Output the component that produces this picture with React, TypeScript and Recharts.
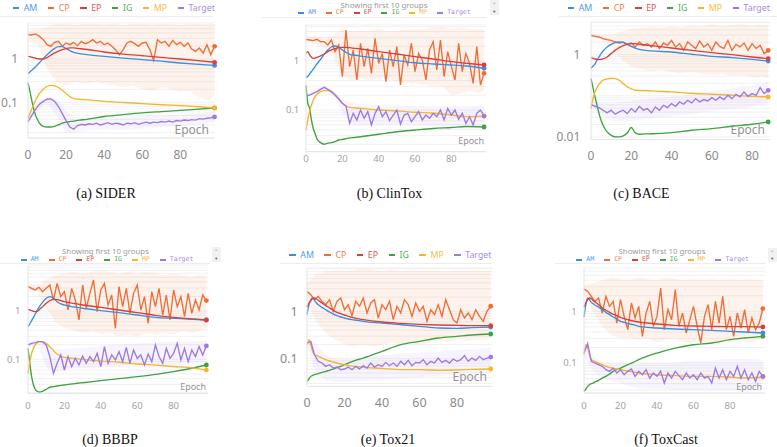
import React from 'react';
import { ComposedChart, Line, Area, XAxis, YAxis, CartesianGrid } from 'recharts';

// epoch grids the values below are read at
const EPOCHS_2 = [0, 2, 4, 6, 8, 10, 12, 14, 16, 18, 20, 22, 24, 26, 28, 30, 32, 34, 36, 38, 40, 42, 44, 46, 48, 50, 52, 54, 56, 58, 60, 62, 64, 66, 68, 70, 72, 74, 76, 78, 80, 82, 84, 86, 88, 90, 92, 94, 96, 98];
const EPOCHS_SMOOTH = [0, 1, 2, 3, 4, 5, 6, 8, 10, 12, 14, 16, 18, 20, 22, 24, 27, 30, 40, 50, 60, 70, 80, 88, 98];
const EPOCHS_BAND = [0, 5, 10, 15, 20, 25, 30, 35, 40, 45, 50, 55, 60, 65, 70, 75, 80, 85, 90, 95, 98];
// BACE stops at epoch 88
const BACE_EPOCHS_2 = EPOCHS_2.slice(0, 45);
const BACE_EPOCHS_SMOOTH = EPOCHS_SMOOTH.slice(0, 24);
const BACE_EPOCHS_BAND = [0, 5, 10, 15, 20, 25, 30, 35, 40, 45, 50, 55, 60, 65, 70, 75, 80, 85, 88];

const X_TICKS = [0, 20, 40, 60, 80];
const LOG_GRID = [0.01, 0.02, 0.03, 0.04, 0.05, 0.06, 0.07, 0.08, 0.09, 0.1, 0.2, 0.3, 0.4, 0.5, 0.6, 0.7, 0.8, 0.9, 1, 2, 3, 4, 5, 6, 7, 8, 9];
const LEGEND_NAMES = ['AM', 'CP', 'EP', 'IG', 'MP', 'Target'];
const DRAW_ORDER = ['CP', 'AM', 'EP', 'IG', 'MP', 'Target'];
const NOISY = ['CP', 'Target'];

// ---- SIDER
const SIDER_AM = [0.46, 0.5, 0.55, 0.6, 0.66, 0.74, 0.82, 1.02, 1.25, 1.5, 1.76, 1.93, 1.93, 1.73, 1.56, 1.42, 1.33, 1.28, 1.15, 1.05, 0.97, 0.89, 0.81, 0.76, 0.71];
const SIDER_EP = [1.15, 1.13, 1.1, 1.07, 1.04, 1.02, 1.0, 1.0, 1.08, 1.22, 1.38, 1.52, 1.64, 1.74, 1.8, 1.8, 1.74, 1.68, 1.45, 1.3, 1.19, 1.09, 1.0, 0.93, 0.84];
const SIDER_MP = [0.043, 0.055, 0.07, 0.09, 0.11, 0.135, 0.16, 0.2, 0.235, 0.247, 0.24, 0.22, 0.19, 0.16, 0.135, 0.122, 0.118, 0.115, 0.105, 0.099, 0.093, 0.088, 0.084, 0.08, 0.074];
const SIDER_IG = [0.28, 0.18, 0.11, 0.07, 0.05, 0.04, 0.033, 0.028, 0.027, 0.027, 0.028, 0.03, 0.033, 0.035, 0.036, 0.037, 0.039, 0.04, 0.047, 0.052, 0.057, 0.061, 0.065, 0.069, 0.074];
const SIDER_TARGET = [0.036, 0.05, 0.07, 0.09, 0.105, 0.118, 0.12, 0.105, 0.08, 0.055, 0.038, 0.027, 0.024, 0.029, 0.031, 0.03, 0.032, 0.031, 0.033, 0.03, 0.032, 0.034, 0.031, 0.033, 0.032, 0.03, 0.033, 0.032, 0.034, 0.031, 0.033, 0.035, 0.033, 0.035, 0.034, 0.036, 0.035, 0.037, 0.035, 0.038, 0.037, 0.039, 0.038, 0.04, 0.039, 0.042, 0.041, 0.043, 0.044, 0.046];
const SIDER_CP = [3.64, 3.58, 3.78, 3.33, 2.79, 2.14, 1.96, 2.42, 2.56, 1.96, 2.34, 2.14, 2.42, 2.03, 2.56, 2.26, 2.42, 2.79, 2.34, 2.56, 2.14, 2.34, 1.96, 1.64, 1.26, 1.64, 2.34, 2.56, 2.26, 1.96, 2.34, 2.42, 1.64, 0.92, 2.79, 2.34, 2.56, 1.96, 2.7, 2.14, 2.42, 1.96, 2.34, 1.7, 1.5, 1.79, 1.37, 2.14, 1.26, 1.96];
const SIDER_CP_HI = [4.6, 4.8, 5.5, 6.5, 6.5, 6.0, 6.5, 6.5, 6.2, 6.5, 6.0, 6.5, 6.5, 6.2, 6.5, 6.5, 6.0, 6.5, 6.5, 6.2, 6.5];
const SIDER_CP_LO = [2.6, 2.2, 0.6, 0.3, 0.25, 0.3, 0.26, 0.3, 0.27, 0.25, 0.22, 0.24, 0.2, 0.18, 0.22, 0.2, 0.17, 0.18, 0.13, 0.11, 0.15];
const SIDER_TG_HI = [0.04, 0.1, 0.14, 0.12, 0.06, 0.045, 0.045, 0.045, 0.046, 0.046, 0.045, 0.047, 0.048, 0.049, 0.05, 0.051, 0.052, 0.054, 0.056, 0.058, 0.06];
const SIDER_TG_LO = [0.032, 0.06, 0.1, 0.05, 0.02, 0.02, 0.022, 0.023, 0.024, 0.023, 0.023, 0.024, 0.025, 0.026, 0.027, 0.028, 0.028, 0.03, 0.031, 0.033, 0.035];

// ---- ClinTox
const CLINTOX_AM = [0.46, 0.49, 0.54, 0.61, 0.68, 0.77, 0.87, 1.08, 1.37, 1.68, 1.93, 2.02, 1.9, 1.68, 1.5, 1.37, 1.31, 1.26, 1.13, 1.02, 0.92, 0.87, 0.83, 0.79, 0.71];
const CLINTOX_EP = [1.43, 1.55, 1.33, 1.19, 1.13, 1.15, 1.19, 1.27, 1.39, 1.55, 1.68, 1.78, 1.87, 1.9, 1.9, 1.87, 1.81, 1.76, 1.55, 1.39, 1.23, 1.1, 0.97, 0.9, 0.83];
const CLINTOX_MP = [0.039, 0.063, 0.092, 0.126, 0.16, 0.187, 0.209, 0.237, 0.248, 0.248, 0.237, 0.203, 0.168, 0.137, 0.12, 0.113, 0.11, 0.108, 0.1, 0.096, 0.09, 0.086, 0.079, 0.073, 0.075];
const CLINTOX_IG = [0.32, 0.137, 0.108, 0.062, 0.042, 0.033, 0.026, 0.0216, 0.02, 0.021, 0.0216, 0.0226, 0.0244, 0.025, 0.026, 0.027, 0.0275, 0.0285, 0.032, 0.036, 0.039, 0.042, 0.044, 0.046, 0.045];
const CLINTOX_TARGET = [0.193, 0.202, 0.219, 0.237, 0.264, 0.29, 0.264, 0.237, 0.202, 0.168, 0.137, 0.121, 0.0535, 0.0855, 0.0625, 0.1, 0.0676, 0.0925, 0.0494, 0.0855, 0.117, 0.0731, 0.0925, 0.0606, 0.079, 0.1, 0.0518, 0.079, 0.0855, 0.0578, 0.0731, 0.0925, 0.0625, 0.079, 0.0676, 0.0855, 0.0731, 0.1, 0.0625, 0.108, 0.079, 0.1, 0.0645, 0.0855, 0.0535, 0.0731, 0.0494, 0.0855, 0.1, 0.075];
const CLINTOX_CP = [2.77, 2.68, 2.6, 2.77, 2.48, 2.48, 2.12, 2.68, 1.55, 2.12, 0.479, 4.29, 0.766, 1.68, 0.41, 2.3, 0.766, 1.81, 0.56, 2.9, 0.896, 1.43, 0.379, 1.68, 0.766, 1.96, 0.324, 1.33, 0.83, 2.3, 0.606, 1.43, 1.05, 0.41, 1.68, 2.48, 0.655, 2.68, 0.479, 1.55, 0.766, 0.41, 2.3, 0.606, 1.43, 0.896, 0.35, 1.96, 0.324, 0.56];
const CLINTOX_CP_HI = [3.2, 3.2, 3.0, 3.3, 4.5, 4.0, 4.2, 4.0, 4.5, 4.0, 4.2, 4.3, 4.5, 4.5, 4.8, 5.0, 4.5, 4.8, 4.5, 4.5, 4.5];
const CLINTOX_CP_LO = [2.3, 2.2, 1.8, 1.2, 0.5, 0.4, 0.45, 0.4, 0.45, 0.42, 0.38, 0.35, 0.35, 0.33, 0.3, 0.3, 0.2, 0.22, 0.25, 0.22, 0.25];
const CLINTOX_TG_HI = [0.21, 0.27, 0.3, 0.25, 0.17, 0.14, 0.13, 0.13, 0.13, 0.125, 0.125, 0.12, 0.12, 0.12, 0.12, 0.12, 0.12, 0.12, 0.12, 0.12, 0.12];
const CLINTOX_TG_LO = [0.18, 0.24, 0.26, 0.2, 0.09, 0.05, 0.05, 0.05, 0.05, 0.05, 0.05, 0.05, 0.05, 0.05, 0.048, 0.048, 0.048, 0.048, 0.048, 0.048, 0.05];

// ---- BACE
const BACE_AM = [0.47, 0.52, 0.6, 0.73, 0.88, 1.06, 1.23, 1.54, 1.78, 1.96, 2.03, 1.96, 1.78, 1.59, 1.45, 1.35, 1.27, 1.23, 1.16, 1.02, 0.91, 0.85, 0.77, 0.7];
const BACE_EP = [0.845, 0.815, 0.785, 0.77, 0.756, 0.77, 0.785, 0.878, 1.06, 1.27, 1.48, 1.65, 1.78, 1.85, 1.85, 1.78, 1.72, 1.65, 1.45, 1.27, 1.12, 1.0, 0.878, 0.8];
const BACE_MP = [0.0488, 0.0853, 0.124, 0.158, 0.19, 0.217, 0.238, 0.256, 0.266, 0.261, 0.238, 0.198, 0.164, 0.147, 0.136, 0.134, 0.134, 0.131, 0.124, 0.115, 0.109, 0.103, 0.097, 0.094];
const BACE_IG = [0.261, 0.158, 0.0937, 0.0588, 0.0369, 0.0254, 0.0192, 0.0132, 0.011, 0.01, 0.01, 0.0106, 0.0125, 0.0169, 0.0125, 0.0116, 0.0118, 0.0119, 0.0127, 0.0145, 0.0159, 0.0182, 0.0203, 0.0231];
const BACE_TARGET = [0.0609, 0.0556, 0.0516, 0.0445, 0.0383, 0.0445, 0.0355, 0.0405, 0.0445, 0.0369, 0.0488, 0.0405, 0.0556, 0.0445, 0.0488, 0.0383, 0.0535, 0.0445, 0.0588, 0.0516, 0.0645, 0.0556, 0.0708, 0.0622, 0.0778, 0.067, 0.0853, 0.0708, 0.0807, 0.0749, 0.0902, 0.0778, 0.0937, 0.0807, 0.1028, 0.0853, 0.1087, 0.0937, 0.124, 0.0973, 0.113, 0.1028, 0.158, 0.113, 0.136];
const BACE_CP = [2.95, 2.79, 2.69, 2.45, 2.31, 2.23, 2.03, 1.92, 2.03, 1.78, 1.92, 1.54, 2.03, 1.69, 1.85, 1.54, 2.03, 1.4, 1.92, 1.69, 2.23, 1.54, 1.85, 1.27, 2.03, 1.69, 1.4, 2.15, 1.54, 1.85, 1.27, 2.03, 1.59, 1.4, 2.23, 1.27, 1.78, 1.54, 1.92, 1.27, 1.85, 1.4, 1.69, 1.06, 1.27];
const BACE_CP_HI = [3.3, 3.1, 3.0, 3.6, 4.2, 4.5, 4.8, 4.5, 5.0, 4.6, 5.2, 4.8, 5.5, 5.0, 5.2, 5.6, 5.0, 5.4, 5.2];
const BACE_CP_LO = [2.7, 2.3, 1.6, 0.8, 0.5, 0.45, 0.4, 0.42, 0.38, 0.35, 0.38, 0.34, 0.32, 0.35, 0.3, 0.32, 0.28, 0.3, 0.27];
const BACE_TG_HI = [0.068, 0.07, 0.065, 0.07, 0.075, 0.08, 0.085, 0.09, 0.095, 0.1, 0.11, 0.12, 0.13, 0.14, 0.15, 0.17, 0.18, 0.2, 0.22];
const BACE_TG_LO = [0.055, 0.035, 0.025, 0.024, 0.024, 0.026, 0.028, 0.03, 0.032, 0.034, 0.036, 0.04, 0.042, 0.045, 0.048, 0.05, 0.055, 0.06, 0.065];

// ---- BBBP
const BBBP_AM = [0.474, 0.538, 0.631, 0.74, 0.867, 1.02, 1.19, 1.51, 1.83, 1.98, 1.83, 1.56, 1.4, 1.33, 1.27, 1.23, 1.19, 1.14, 1.02, 0.924, 0.826, 0.74, 0.705, 0.683, 0.651];
const BBBP_EP = [1.08, 1.05, 1.02, 0.984, 0.969, 0.984, 1.05, 1.23, 1.44, 1.64, 1.74, 1.72, 1.64, 1.56, 1.51, 1.46, 1.4, 1.33, 1.19, 1.05, 0.924, 0.814, 0.74, 0.694, 0.651];
const BBBP_MP = [0.0513, 0.0895, 0.133, 0.169, 0.198, 0.221, 0.232, 0.232, 0.214, 0.183, 0.151, 0.129, 0.117, 0.11, 0.107, 0.105, 0.103, 0.1, 0.092, 0.087, 0.08, 0.076, 0.071, 0.068, 0.06];
const BBBP_IG = [0.169, 0.0826, 0.0438, 0.0294, 0.0239, 0.0218, 0.0211, 0.0218, 0.0239, 0.0264, 0.0272, 0.028, 0.0289, 0.0294, 0.0304, 0.0309, 0.0319, 0.0328, 0.0362, 0.0398, 0.0438, 0.0489, 0.0556, 0.063, 0.0763];
const BBBP_TARGET = [0.198, 0.214, 0.221, 0.232, 0.232, 0.198, 0.114, 0.0513, 0.0826, 0.123, 0.0601, 0.114, 0.0705, 0.105, 0.0763, 0.117, 0.0826, 0.114, 0.0895, 0.133, 0.0705, 0.183, 0.0826, 0.123, 0.0969, 0.144, 0.0895, 0.177, 0.0826, 0.156, 0.105, 0.123, 0.0763, 0.129, 0.0895, 0.198, 0.114, 0.0826, 0.169, 0.105, 0.133, 0.214, 0.0969, 0.169, 0.0895, 0.156, 0.114, 0.183, 0.123, 0.189];
const BBBP_CP = [3.19, 2.94, 2.72, 3.09, 2.51, 2.94, 3.45, 1.69, 3.74, 1.98, 2.51, 1.05, 2.94, 1.69, 0.651, 3.45, 1.14, 2.32, 4.38, 0.969, 2.72, 3.74, 1.33, 2.14, 0.438, 3.19, 1.23, 2.94, 0.895, 2.32, 3.45, 1.05, 1.98, 0.556, 2.51, 1.23, 2.94, 0.826, 2.14, 0.651, 2.72, 1.23, 1.98, 0.763, 2.32, 0.895, 1.69, 1.05, 2.14, 1.64];
const BBBP_CP_HI = [3.6, 3.5, 4.5, 5.5, 6.0, 6.5, 6.0, 6.5, 7.0, 6.5, 6.0, 6.5, 6.0, 6.5, 6.0, 5.5, 6.0, 5.5, 5.0, 5.5, 5.0];
const BBBP_CP_LO = [2.8, 2.5, 1.2, 0.6, 0.45, 0.4, 0.35, 0.38, 0.33, 0.35, 0.3, 0.33, 0.3, 0.35, 0.32, 0.35, 0.33, 0.38, 0.35, 0.4, 0.42];
const BBBP_TG_HI = [0.22, 0.26, 0.2, 0.16, 0.16, 0.17, 0.17, 0.18, 0.19, 0.2, 0.2, 0.21, 0.21, 0.22, 0.22, 0.23, 0.23, 0.23, 0.24, 0.24, 0.24];
const BBBP_TG_LO = [0.18, 0.2, 0.07, 0.055, 0.06, 0.065, 0.066, 0.068, 0.07, 0.072, 0.073, 0.075, 0.076, 0.078, 0.08, 0.08, 0.082, 0.083, 0.085, 0.086, 0.09];

// ---- Tox21
const TOX21_AM = [0.85, 1.38, 1.76, 1.91, 1.71, 1.5, 1.38, 1.21, 1.08, 0.968, 0.878, 0.81, 0.759, 0.723, 0.689, 0.667, 0.646, 0.615, 0.567, 0.523, 0.482, 0.445, 0.437, 0.452, 0.467];
const TOX21_EP = [1.23, 1.45, 1.68, 1.85, 1.91, 1.82, 1.71, 1.5, 1.32, 1.18, 1.05, 0.953, 0.893, 0.837, 0.784, 0.747, 0.7, 0.667, 0.595, 0.558, 0.531, 0.514, 0.506, 0.498, 0.498];
const TOX21_MP = [0.198, 0.252, 0.198, 0.143, 0.121, 0.118, 0.112, 0.103, 0.0953, 0.0893, 0.0851, 0.081, 0.0772, 0.0747, 0.0722, 0.0698, 0.0675, 0.0656, 0.0625, 0.0586, 0.0586, 0.0567, 0.0577, 0.0596, 0.0606];
const TOX21_IG = [0.0332, 0.0372, 0.0423, 0.0444, 0.0459, 0.0474, 0.0482, 0.0514, 0.054, 0.0567, 0.0605, 0.0646, 0.0689, 0.0747, 0.081, 0.0864, 0.0953, 0.103, 0.143, 0.198, 0.232, 0.273, 0.296, 0.316, 0.332];
const TOX21_TARGET = [0.214, 0.232, 0.121, 0.0879, 0.081, 0.0689, 0.0747, 0.0635, 0.0666, 0.0586, 0.0606, 0.0666, 0.0586, 0.0689, 0.0606, 0.0711, 0.0635, 0.081, 0.0666, 0.0747, 0.0689, 0.0837, 0.0711, 0.081, 0.0689, 0.0879, 0.0747, 0.0922, 0.0711, 0.0837, 0.081, 0.0953, 0.0747, 0.0879, 0.081, 0.103, 0.0837, 0.0922, 0.081, 0.0984, 0.0879, 0.0953, 0.116, 0.0879, 0.103, 0.0922, 0.112, 0.0953, 0.103, 0.108];
const TOX21_CP = [2.64, 2.25, 1.76, 2.07, 1.63, 1.38, 1.76, 1.0, 1.63, 1.91, 1.08, 1.38, 0.81, 1.63, 1.28, 1.91, 0.922, 1.5, 1.76, 0.723, 1.38, 1.08, 1.63, 0.667, 1.28, 0.922, 1.76, 1.38, 0.784, 1.5, 1.0, 1.28, 0.615, 1.08, 0.85, 1.38, 0.784, 1.76, 1.08, 0.667, 0.567, 1.08, 0.723, 0.922, 0.667, 1.08, 0.784, 0.615, 1.0, 1.28];
const TOX21_CP_HI = [4.0, 6.0, 7.0, 7.5, 7.0, 7.5, 8.0, 7.5, 7.0, 7.5, 7.0, 7.5, 7.0, 7.5, 7.0, 7.0, 7.5, 7.0, 7.5, 7.0, 7.5];
const TOX21_CP_LO = [1.5, 0.6, 0.35, 0.25, 0.2, 0.18, 0.2, 0.18, 0.2, 0.22, 0.2, 0.22, 0.2, 0.22, 0.25, 0.22, 0.25, 0.24, 0.25, 0.25, 0.26];
const TOX21_TG_HI = [0.25, 0.2, 0.12, 0.1, 0.1, 0.1, 0.11, 0.11, 0.12, 0.12, 0.13, 0.13, 0.13, 0.14, 0.14, 0.15, 0.15, 0.16, 0.16, 0.17, 0.17];
const TOX21_TG_LO = [0.18, 0.05, 0.035, 0.032, 0.032, 0.033, 0.034, 0.035, 0.036, 0.037, 0.038, 0.04, 0.04, 0.042, 0.043, 0.045, 0.046, 0.048, 0.05, 0.05, 0.052];

// ---- ToxCast
const TOXCAST_AM = [0.777, 1.35, 1.81, 1.68, 1.49, 1.41, 1.33, 1.21, 1.08, 0.956, 0.862, 0.777, 0.711, 0.641, 0.612, 0.577, 0.552, 0.512, 0.476, 0.455, 0.442, 0.429, 0.41, 0.398, 0.381];
const TOXCAST_EP = [1.21, 1.45, 1.68, 1.81, 1.76, 1.63, 1.52, 1.35, 1.16, 1.05, 0.956, 0.875, 0.824, 0.765, 0.721, 0.69, 0.65, 0.622, 0.569, 0.536, 0.52, 0.512, 0.505, 0.505, 0.498];
const TOXCAST_MP = [0.145, 0.226, 0.195, 0.145, 0.116, 0.111, 0.108, 0.1, 0.0929, 0.0862, 0.0825, 0.079, 0.0767, 0.0743, 0.0721, 0.07, 0.067, 0.064, 0.0594, 0.0569, 0.0552, 0.0552, 0.0536, 0.0513, 0.0536];
const TOXCAST_IG = [0.0283, 0.0314, 0.0353, 0.0381, 0.0399, 0.041, 0.043, 0.0462, 0.0512, 0.0552, 0.0612, 0.069, 0.0743, 0.08, 0.0862, 0.0929, 0.103, 0.116, 0.156, 0.195, 0.226, 0.244, 0.283, 0.305, 0.328];
const TOXCAST_TARGET = [0.156, 0.237, 0.108, 0.1, 0.0929, 0.0862, 0.0743, 0.069, 0.08, 0.064, 0.0743, 0.0594, 0.069, 0.0767, 0.0552, 0.069, 0.0594, 0.0743, 0.0512, 0.064, 0.0552, 0.069, 0.041, 0.064, 0.0512, 0.069, 0.0569, 0.0476, 0.064, 0.0512, 0.0594, 0.0476, 0.064, 0.0512, 0.0552, 0.041, 0.08, 0.0512, 0.0743, 0.0476, 0.069, 0.0552, 0.0862, 0.0512, 0.0743, 0.0476, 0.064, 0.0442, 0.069, 0.0552];
const TOXCAST_CP = [2.71, 2.44, 1.95, 1.56, 1.81, 0.928, 1.95, 1.25, 1.56, 0.594, 1.68, 0.8, 0.442, 1.45, 0.743, 1.25, 0.328, 0.928, 1.56, 0.512, 0.8, 2.83, 0.442, 1.08, 0.69, 2.63, 0.512, 0.928, 0.381, 0.69, 1.25, 0.512, 0.244, 0.8, 1.35, 0.442, 1.56, 0.594, 1.95, 0.442, 0.8, 0.328, 0.928, 0.476, 1.08, 0.381, 0.743, 0.442, 0.594, 1.13];
const TOXCAST_CP_HI = [3.2, 3.5, 4.0, 4.5, 4.2, 4.0, 4.5, 4.2, 4.0, 4.5, 4.2, 4.0, 4.2, 4.0, 4.2, 4.0, 4.2, 4.0, 4.2, 4.0, 4.0];
const TOXCAST_CP_LO = [2.0, 1.0, 0.5, 0.35, 0.3, 0.3, 0.28, 0.3, 0.25, 0.28, 0.3, 0.25, 0.25, 0.28, 0.25, 0.27, 0.25, 0.28, 0.25, 0.27, 0.3];
const TOXCAST_TG_HI = [0.2, 0.14, 0.1, 0.1, 0.1, 0.1, 0.1, 0.1, 0.1, 0.1, 0.1, 0.11, 0.11, 0.11, 0.11, 0.12, 0.12, 0.12, 0.12, 0.12, 0.11];
const TOXCAST_TG_LO = [0.13, 0.07, 0.05, 0.045, 0.04, 0.035, 0.033, 0.032, 0.032, 0.031, 0.03, 0.03, 0.03, 0.03, 0.03, 0.03, 0.03, 0.03, 0.03, 0.03, 0.035];

const COLORS = {
  AM: '#3a8fe4',
  CP: '#ef6d36',
  EP: '#d9403d',
  IG: '#3ea33f',
  MP: '#f3b62c',
  Target: '#9d79e3',
};
const TEXT_COLORS = {
  AM: '#4d9be8',
  CP: '#f07f4e',
  EP: '#de5552',
  IG: '#52ad52',
  MP: '#f3bd43',
  Target: '#a88ae4',
};

const SANS = '"Noto Sans", Roboto, sans-serif';
const MONO = '"DejaVu Sans Mono", "Liberation Mono", monospace';
const SERIF = '"Liberation Serif", "Times New Roman", serif';

const PANELS = [
  {
    caption: '(a) SIDER', capX: 106, capY: 193.5,
    left: 28.3, top: 23.3, plotW: 186.6, plotH: 115, xMax: 98,
    yDomain: [0.01503, 6.77], yLabels: [1, 0.1],
    small: false, fs: 12, xTickMargin: 12.5, yTickMargin: 10,
    legend: { x: 12.7, y: 8 }, sep: { x1: 0, x2: 213, y: 15.5 },
    epoch: { right: 209, y: 130 },
    grids: { smooth: EPOCHS_SMOOTH, noisy: EPOCHS_2, band: EPOCHS_BAND },
    values: { AM: SIDER_AM, CP: SIDER_CP, EP: SIDER_EP, IG: SIDER_IG, MP: SIDER_MP, Target: SIDER_TARGET },
    bands: [
      { key: 'CP', lo: SIDER_CP_LO, hi: SIDER_CP_HI },
      { key: 'Target', lo: SIDER_TG_LO, hi: SIDER_TG_HI },
    ],
  },
  {
    caption: '(b) ClinTox', capX: 389.5, capY: 193.5,
    left: 306, top: 25, plotW: 179.9, plotH: 126.7, xMax: 99,
    yDomain: [0.0141, 5.43], yLabels: [1, 0.1],
    small: true, fs: 9.5, xTickMargin: 4, yTickMargin: 6.7,
    legend: { x: 298, y: 12.9 }, sep: { x1: 262, x2: 487, y: 16.5 },
    showing: { x: 384, y: 5.4 }, scroll: { x: 490, y: 0, h: 15 },
    epoch: { right: 484, y: 140.7 },
    grids: { smooth: EPOCHS_SMOOTH, noisy: EPOCHS_2, band: EPOCHS_BAND },
    values: { AM: CLINTOX_AM, CP: CLINTOX_CP, EP: CLINTOX_EP, IG: CLINTOX_IG, MP: CLINTOX_MP, Target: CLINTOX_TARGET },
    bands: [
      { key: 'CP', lo: CLINTOX_CP_LO, hi: CLINTOX_CP_HI },
      { key: 'Target', lo: CLINTOX_TG_LO, hi: CLINTOX_TG_HI },
    ],
  },
  {
    caption: '(c) BACE', capX: 641.5, capY: 193.5,
    left: 591, top: 21.7, plotW: 179.2, plotH: 117.6, xMax: 89,
    yDomain: [0.0086, 6.22], yLabels: [1, 0.01],
    small: false, fs: 12, xTickMargin: 11.5, yTickMargin: 10.7,
    legend: { x: 567.7, y: 8 }, sep: { x1: 559, x2: 777, y: 15.5 },
    epoch: { right: 765, y: 130 },
    grids: { smooth: BACE_EPOCHS_SMOOTH, noisy: BACE_EPOCHS_2, band: BACE_EPOCHS_BAND },
    values: { AM: BACE_AM, CP: BACE_CP, EP: BACE_EP, IG: BACE_IG, MP: BACE_MP, Target: BACE_TARGET },
    bands: [
      { key: 'CP', lo: BACE_CP_LO, hi: BACE_CP_HI },
      { key: 'Target', lo: BACE_TG_LO, hi: BACE_TG_HI },
    ],
  },
  {
    caption: '(d) BBBP', capX: 110, capY: 439.5,
    left: 28.3, top: 265, plotW: 180.2, plotH: 128.3, xMax: 99,
    yDomain: [0.0198, 8.95], yLabels: [1, 0.1],
    small: true, fs: 9.5, xTickMargin: 9.4, yTickMargin: 7.6,
    legend: { x: 20.7, y: 259.8 }, sep: { x1: 0, x2: 210, y: 263 },
    showing: { x: 105.5, y: 251.5 }, scroll: { x: 212, y: 247, h: 15 },
    epoch: { right: 206, y: 387 },
    grids: { smooth: EPOCHS_SMOOTH, noisy: EPOCHS_2, band: EPOCHS_BAND },
    values: { AM: BBBP_AM, CP: BBBP_CP, EP: BBBP_EP, IG: BBBP_IG, MP: BBBP_MP, Target: BBBP_TARGET },
    bands: [
      { key: 'CP', lo: BBBP_CP_LO, hi: BBBP_CP_HI },
      { key: 'Target', lo: BBBP_TG_LO, hi: BBBP_TG_HI },
    ],
  },
  {
    caption: '(e) Tox21', capX: 388, capY: 440,
    left: 306.7, top: 268.3, plotW: 185.6, plotH: 118.4, xMax: 99,
    yDomain: [0.026, 8.23], yLabels: [1, 0.1],
    small: false, fs: 12.5, xTickMargin: 12, yTickMargin: 9.4,
    legend: { x: 289.3, y: 255 }, sep: { x1: 280, x2: 492, y: 262.5 },
    epoch: { right: 487, y: 377 },
    grids: { smooth: EPOCHS_SMOOTH, noisy: EPOCHS_2, band: EPOCHS_BAND },
    values: { AM: TOX21_AM, CP: TOX21_CP, EP: TOX21_EP, IG: TOX21_IG, MP: TOX21_MP, Target: TOX21_TARGET },
    bands: [
      { key: 'CP', lo: TOX21_CP_LO, hi: TOX21_CP_HI },
      { key: 'Target', lo: TOX21_TG_LO, hi: TOX21_TG_HI },
    ],
  },
  {
    caption: '(f) ToxCast', capX: 666, capY: 440,
    left: 584.3, top: 268.3, plotW: 180.7, plotH: 125, xMax: 99,
    yDomain: [0.0263, 6.9], yLabels: [1, 0.1],
    small: true, fs: 9.5, xTickMargin: 9.4, yTickMargin: 7.3,
    legend: { x: 576.3, y: 259.8 }, sep: { x1: 555, x2: 766, y: 263 },
    showing: { x: 662, y: 251.5 }, scroll: { x: 768, y: 248, h: 14 },
    epoch: { right: 762, y: 387 },
    grids: { smooth: EPOCHS_SMOOTH, noisy: EPOCHS_2, band: EPOCHS_BAND },
    values: { AM: TOXCAST_AM, CP: TOXCAST_CP, EP: TOXCAST_EP, IG: TOXCAST_IG, MP: TOXCAST_MP, Target: TOXCAST_TARGET },
    bands: [
      { key: 'CP', lo: TOXCAST_CP_LO, hi: TOXCAST_CP_HI },
      { key: 'Target', lo: TOXCAST_TG_LO, hi: TOXCAST_TG_HI },
    ],
  },
];

const toPoints = (xs: number[], ys: number[]) => xs.map((x, i) => ({ x, y: ys[i] }));
const toRange = (xs: number[], lo: number[], hi: number[]) => xs.map((x, i) => ({ x, r: [lo[i], hi[i]] }));

const endDot = (color: string, last: number) => (props: any) =>
  props.index === last ? (
    <circle key={`end-${props.index}`} cx={props.cx} cy={props.cy} r={2.4} fill={color} />
  ) : (
    <g key={`no-${props.index}`} />
  );

function Legend({ p }: { p: any }) {
  const mono = p.small;
  const h = mono ? 7 : 12;
  return (
    <div
      style={{
        position: 'absolute',
        left: p.legend.x,
        top: p.legend.y - h / 2,
        height: h,
        display: 'flex',
        alignItems: 'center',
        gap: mono ? 10 : 10.5,
        whiteSpace: 'nowrap',
        fontFamily: mono ? MONO : SANS,
        fontSize: mono ? 6.5 : 8.8,
        lineHeight: `${h}px`,
      }}
    >
      {LEGEND_NAMES.map((n) => (
        <div key={n} style={{ display: 'flex', alignItems: 'center', gap: mono ? 4 : 4.5, height: h }}>
          <div style={{ width: mono ? 6 : 6.5, height: mono ? 1.8 : 2.2, background: COLORS[n] }} />
          <span style={{ color: TEXT_COLORS[n], lineHeight: `${h}px` }}>{n}</span>
        </div>
      ))}
    </div>
  );
}

function Panel({ p }: { p: any }) {
  const yw = 40;
  const xh = 26;
  const mt = 3;
  const mr = 5;
  const ticks = LOG_GRID.filter((t) => t >= p.yDomain[0] && t <= p.yDomain[1]);
  const tickStyle = { fontSize: p.fs, fill: p.small ? '#a3a3a3' : '#8a8a8a', fontFamily: SANS };
  return (
    <div style={{ position: 'absolute', left: p.left - yw, top: p.top - mt }}>
      <ComposedChart
        width={yw + p.plotW + mr}
        height={mt + p.plotH + xh}
        margin={{ top: mt, right: mr, bottom: 0, left: 0 }}
      >
        <CartesianGrid vertical={false} stroke="#eeeeee" strokeWidth={0.8} />
        <XAxis
          dataKey="x"
          type="number"
          domain={[0, p.xMax]}
          ticks={X_TICKS}
          interval={0}
          tickLine={false}
          tickSize={0}
          tickMargin={p.xTickMargin}
          axisLine={{ stroke: '#e4e4e4' }}
          height={xh}
          tick={tickStyle}
        />
        <YAxis
          type="number"
          scale="log"
          domain={p.yDomain}
          allowDataOverflow
          ticks={ticks}
          interval={0}
          tickFormatter={(v: number) => (p.yLabels.includes(v) ? String(v) : '')}
          width={yw}
          tickLine={false}
          tickSize={0}
          tickMargin={p.yTickMargin}
          axisLine={{ stroke: '#e4e4e4' }}
          tick={tickStyle}
        />
        {p.bands.map((b: any) => (
          <Area
            key={`band-${b.key}`}
            data={toRange(p.grids.band, b.lo, b.hi)}
            dataKey="r"
            type="linear"
            stroke="none"
            fill={COLORS[b.key]}
            fillOpacity={b.key === 'CP' ? 0.09 : 0.08}
            isAnimationActive={false}
            activeDot={false}
          />
        ))}
        {DRAW_ORDER.map((k) => {
          const xs = NOISY.includes(k) ? p.grids.noisy : p.grids.smooth;
          return (
            <Line
              key={k}
              data={toPoints(xs, p.values[k])}
              dataKey="y"
              type={NOISY.includes(k) ? 'linear' : 'monotone'}
              stroke={COLORS[k]}
              strokeWidth={1.35}
              dot={endDot(COLORS[k], xs.length - 1)}
              activeDot={false}
              isAnimationActive={false}
            />
          );
        })}
      </ComposedChart>
    </div>
  );
}

function Extras({ p }: { p: any }) {
  const epochFs = p.small ? 9 : 12;
  return (
    <>
      <div
        style={{
          position: 'absolute', left: p.sep.x1, top: p.sep.y, width: p.sep.x2 - p.sep.x1,
          height: 1, background: '#ececec',
        }}
      />
      <Legend p={p} />
      {p.showing && (
        <div
          style={{
            position: 'absolute', left: p.showing.x - 60, width: 120,
            top: p.showing.y - 3.8, height: 7.6, lineHeight: '7.6px',
            textAlign: 'center', fontFamily: SANS,
            fontSize: 7.8, color: '#9a9a9a', whiteSpace: 'nowrap',
          }}
        >
          Showing first 10 groups
        </div>
      )}
      {p.scroll && (
        <div
          style={{
            position: 'absolute', left: p.scroll.x, top: p.scroll.y, width: 8.5, height: p.scroll.h,
            background: '#f1f1f1', display: 'flex', flexDirection: 'column',
            justifyContent: 'space-between', alignItems: 'center', fontSize: 4,
            lineHeight: '6px', fontFamily: SANS,
          }}
        >
          <span style={{ color: '#c4c4c4' }}>▲</span>
          <span style={{ color: '#555' }}>▼</span>
        </div>
      )}
      <div
        style={{
          position: 'absolute', left: p.epoch.right - 60, width: 60, top: p.epoch.y - 8,
          height: 16, lineHeight: '16px', textAlign: 'right', fontFamily: SANS,
          fontSize: epochFs, color: '#939393',
        }}
      >
        Epoch
      </div>
      <div
        style={{
          position: 'absolute', left: p.capX - 100, width: 200, top: p.capY - 10,
          height: 20, lineHeight: '20px', textAlign: 'center', fontFamily: SERIF,
          fontSize: 14, color: '#111',
        }}
      >
        {p.caption}
      </div>
    </>
  );
}

export default function App() {
  return (
    <div
      style={{
        position: 'absolute', left: 0, top: 0, width: 777, height: 447,
        background: '#fff', overflow: 'hidden',
      }}
    >
      {PANELS.map((p) => (
        <React.Fragment key={p.caption}>
          <Panel p={p} />
          <Extras p={p} />
        </React.Fragment>
      ))}
    </div>
  );
}
